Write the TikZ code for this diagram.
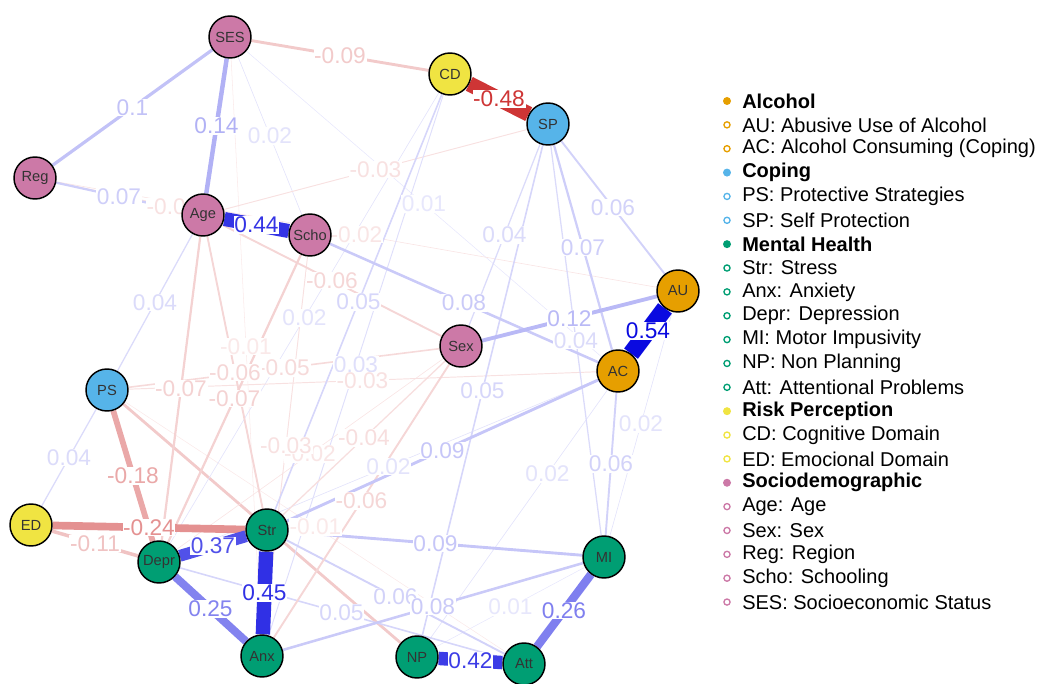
\documentclass[tikz,border=0pt]{standalone}
\usepackage{fontspec}
\setmainfont{Liberation Sans}
\usetikzlibrary{calc}
\definecolor{cAlc}{HTML}{E69F00}
\definecolor{cCop}{HTML}{56B4E9}
\definecolor{cMen}{HTML}{009E73}
\definecolor{cRisk}{HTML}{F0E442}
\definecolor{cSoc}{HTML}{CC79A7}
\definecolor{poscol}{HTML}{0A0AE0}
\definecolor{negcol}{HTML}{C81E1E}
\pgfdeclarelayer{edgelayer}
\pgfdeclarelayer{labellayer}
\pgfsetlayers{edgelayer,labellayer,main}
\tikzset{
  var/.style={circle, draw=black, line width=1.1pt, minimum size=31.5pt, inner sep=0pt,
    font=\fontsize{11}{11}\selectfont, text=black!80},
  elabel/.style={fill=white, inner sep=0.5pt, font=\fontsize{17}{17}\selectfont},
  legtext/.style={anchor=west, inner sep=0pt, font=\fontsize{15}{15}\selectfont},
}
% weakest first, so the strong edges end up on top
\newcommand{\edgelist}{SES/AC/0.01, MI/NP/0.01, PS/Att/-0.01, SES/Anx/-0.01,
  SES/Scho/0.02, Reg/AU/-0.02, AU/MI/0.02, AU/NP/0.02, AC/Depr/0.02, CD/Depr/0.02,
  Sex/Depr/-0.02, Reg/Scho/-0.03, SP/Age/-0.03, Scho/Anx/-0.03, CD/Anx/0.03, PS/AC/-0.03,
  SP/Sex/0.04, SP/MI/0.04, Sex/Str/-0.04, PS/ED/0.04, Age/PS/0.04,
  CD/Str/0.05, SP/NP/0.05, Depr/Att/0.05, PS/Sex/-0.05,
  SP/AU/0.06, AC/MI/0.06, Str/Att/0.06, Age/Sex/-0.06, Sex/Anx/-0.06, Age/Str/-0.06,
  Reg/Age/0.07, SP/AC/0.07, Age/Depr/-0.07, Scho/Depr/-0.07,
  Scho/AC/0.08, MI/Anx/0.08, AC/Str/0.09, Str/MI/0.09, SES/CD/-0.09,
  SES/Reg/0.1, ED/Depr/-0.11, Sex/AU/0.12, SES/Age/0.14, PS/Depr/-0.18,
  ED/Str/-0.24, Depr/Anx/0.25, MI/Att/0.26, Depr/Str/0.37, NP/Att/0.42,
  Age/Scho/0.44, Str/Anx/0.45, CD/SP/-0.48, AU/AC/0.54}
\newcommand{\edgecolor}[1]{%
  \pgfmathsetmacro{\fadepct}{min(100,8+92*abs(#1)/0.54)}%
  \pgfmathtruncatemacro{\isneg}{#1<0}%
  \ifnum\isneg=1 \colorlet{ecol}{negcol!\fadepct!white}\else\colorlet{ecol}{poscol!\fadepct!white}\fi}

\begin{document}
\begin{tikzpicture}[x=0.75pt, y=-0.75pt]
  \useasboundingbox (0,0) rectangle (1058,684);

  % the variables
  \node[var, fill=cSoc]  (SES)  at (230,37)  {SES};
  \node[var, fill=cRisk] (CD)   at (450,74)  {CD};
  \node[var, fill=cCop]  (SP)   at (548,124) {SP};
  \node[var, fill=cSoc]  (Reg)  at (35,178)  {Reg};
  \node[var, fill=cSoc]  (Age)  at (203,215) {Age};
  \node[var, fill=cSoc]  (Scho) at (310,235) {Scho};
  \node[var, fill=cAlc]  (AU)   at (678,291) {AU};
  \node[var, fill=cSoc]  (Sex)  at (461,346) {Sex};
  \node[var, fill=cAlc]  (AC)   at (618,371) {AC};
  \node[var, fill=cCop]  (PS)   at (107,390) {PS};
  \node[var, fill=cRisk] (ED)   at (31,525)  {ED};
  \node[var, fill=cMen]  (Str)  at (267,530) {Str};
  \node[var, fill=cMen]  (Depr) at (159,562) {Depr};
  \node[var, fill=cMen]  (MI)   at (604,557) {MI};
  \node[var, fill=cMen]  (Anx)  at (262,656) {Anx};
  \node[var, fill=cMen]  (NP)   at (417,657) {NP};
  \node[var, fill=cMen]  (Att)  at (524,664) {Att};

  % partial correlations
  \begin{pgfonlayer}{edgelayer}
    \edgecolor{-0.09}
    \draw[ecol, line width=2.1pt] (PS) -- (NP);
    \foreach \na/\nb/\wt in \edgelist {
      \edgecolor{\wt}
      \pgfmathsetmacro{\ew}{max(0.4,24*abs(\wt))}
      \draw[ecol, line width=\ew pt] (\na) -- (\nb);
    }
  \end{pgfonlayer}
  \begin{pgfonlayer}{labellayer}
    \foreach \na/\nb/\wt in \edgelist {
      \edgecolor{\wt}
      \node[elabel, text=ecol] (w-\na-\nb) at ($(\na)!0.5!(\nb)$) {\wt};
    }
  \end{pgfonlayer}

  % legend
  \foreach \lt/\lc/\lk [count=\li from 0] in {Alcohol/cAlc/h,
      AU: Abusive Use of Alcohol/cAlc/i, AC: Alcohol Consuming (Coping)/cAlc/i,
      Coping/cCop/h, PS: Protective Strategies/cCop/i, SP: Self Protection/cCop/i,
      Mental Health/cMen/h, Str: Stress/cMen/i, Anx: Anxiety/cMen/i,
      Depr: Depression/cMen/i, MI: Motor Impusivity/cMen/i, NP: Non Planning/cMen/i,
      Att: Attentional Problems/cMen/i,
      Risk Perception/cRisk/h, CD: Cognitive Domain/cRisk/i, ED: Emocional Domain/cRisk/i,
      Sociodemographic/cSoc/h, Age: Age/cSoc/i, Sex: Sex/cSoc/i, Reg: Region/cSoc/i,
      Scho: Schooling/cSoc/i, SES: Socioeconomic Status/cSoc/i} {
    \pgfmathsetmacro{\ly}{101+23.86*\li}
    \if\lk h
      \fill[\lc] (727,\ly) circle (3pt);
      \node[legtext] (leg\li) at (742,\ly) {\bfseries\lt};
    \else
      \draw[\lc, line width=1pt] (727,\ly) circle (2.3pt);
      \node[legtext] (leg\li) at (742,\ly) {\lt};
    \fi
  }
\end{tikzpicture}
\end{document}
